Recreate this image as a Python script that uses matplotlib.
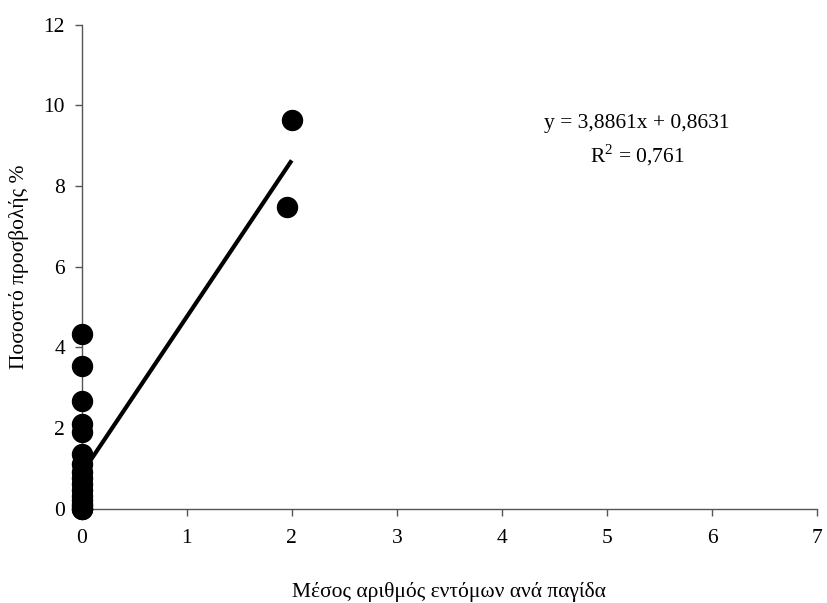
import matplotlib;matplotlib.use("Agg")
import matplotlib.pyplot as plt
import numpy as np

# data
x_vals=[0,0,0,0,0,0,0,0,0,0,0,0,0,0,0,0,0,1.96,2.0]
y_vals=[4.33,3.54,2.67,2.1,1.9,1.35,1.1,0.9,0.75,0.6,0.45,0.3,0.2,0.1,0.05,0.0,0.0,7.47,9.64]
slope,intercept=3.8861,0.8631
eq_text="y = 3,8861x + 0,8631"
r2_text="R$^2$ = 0,761"
xticks=[0,1,2,3,4,5,6,7]
yticks=[0,2,4,6,8,10,12]

plt.rcParams["font.family"]=["Liberation Serif","DejaVu Serif"]
plt.rcParams["mathtext.fontset"]="custom"
plt.rcParams["mathtext.rm"]="Liberation Serif"
fs=15.5

fig=plt.figure(figsize=(8.27,6.03),dpi=100)
ax=fig.add_axes([0.0986,0.1567,0.8894,0.8023])
ax.plot(x_vals,y_vals,"o",ms=14.4,color="black",clip_on=False,zorder=3)
xl=np.array([min(x_vals),max(x_vals)])
ax.plot(xl,slope*xl+intercept,color="black",lw=3,solid_capstyle="butt",zorder=2)
ax.set_xlim(0,7);ax.set_ylim(0,12)
ax.set_xticks(xticks);ax.set_yticks(yticks)
for s in ["top","right"]:ax.spines[s].set_visible(False)
for s in ["left","bottom"]:ax.spines[s].set_color("#555555");ax.spines[s].set_linewidth(1)
ax.tick_params(direction="out",length=5,width=1,color="#555555",labelsize=fs)
ax.tick_params(axis="x",pad=10);ax.tick_params(axis="y",pad=7)
ax.set_xlabel("Μέσος αριθμός εντόμων ανά παγίδα",fontsize=fs,labelpad=24)
ax.set_ylabel("Ποσοστό προσβολής %",fontsize=fs)
ax.yaxis.set_label_coords(-0.071,0.5)
ax.text(5.285,9.54,eq_text,ha="center",va="center",fontsize=fs)
ax.text(5.285,8.77,r2_text,ha="center",va="center",fontsize=fs)
fig.savefig("out.png",dpi=100)
